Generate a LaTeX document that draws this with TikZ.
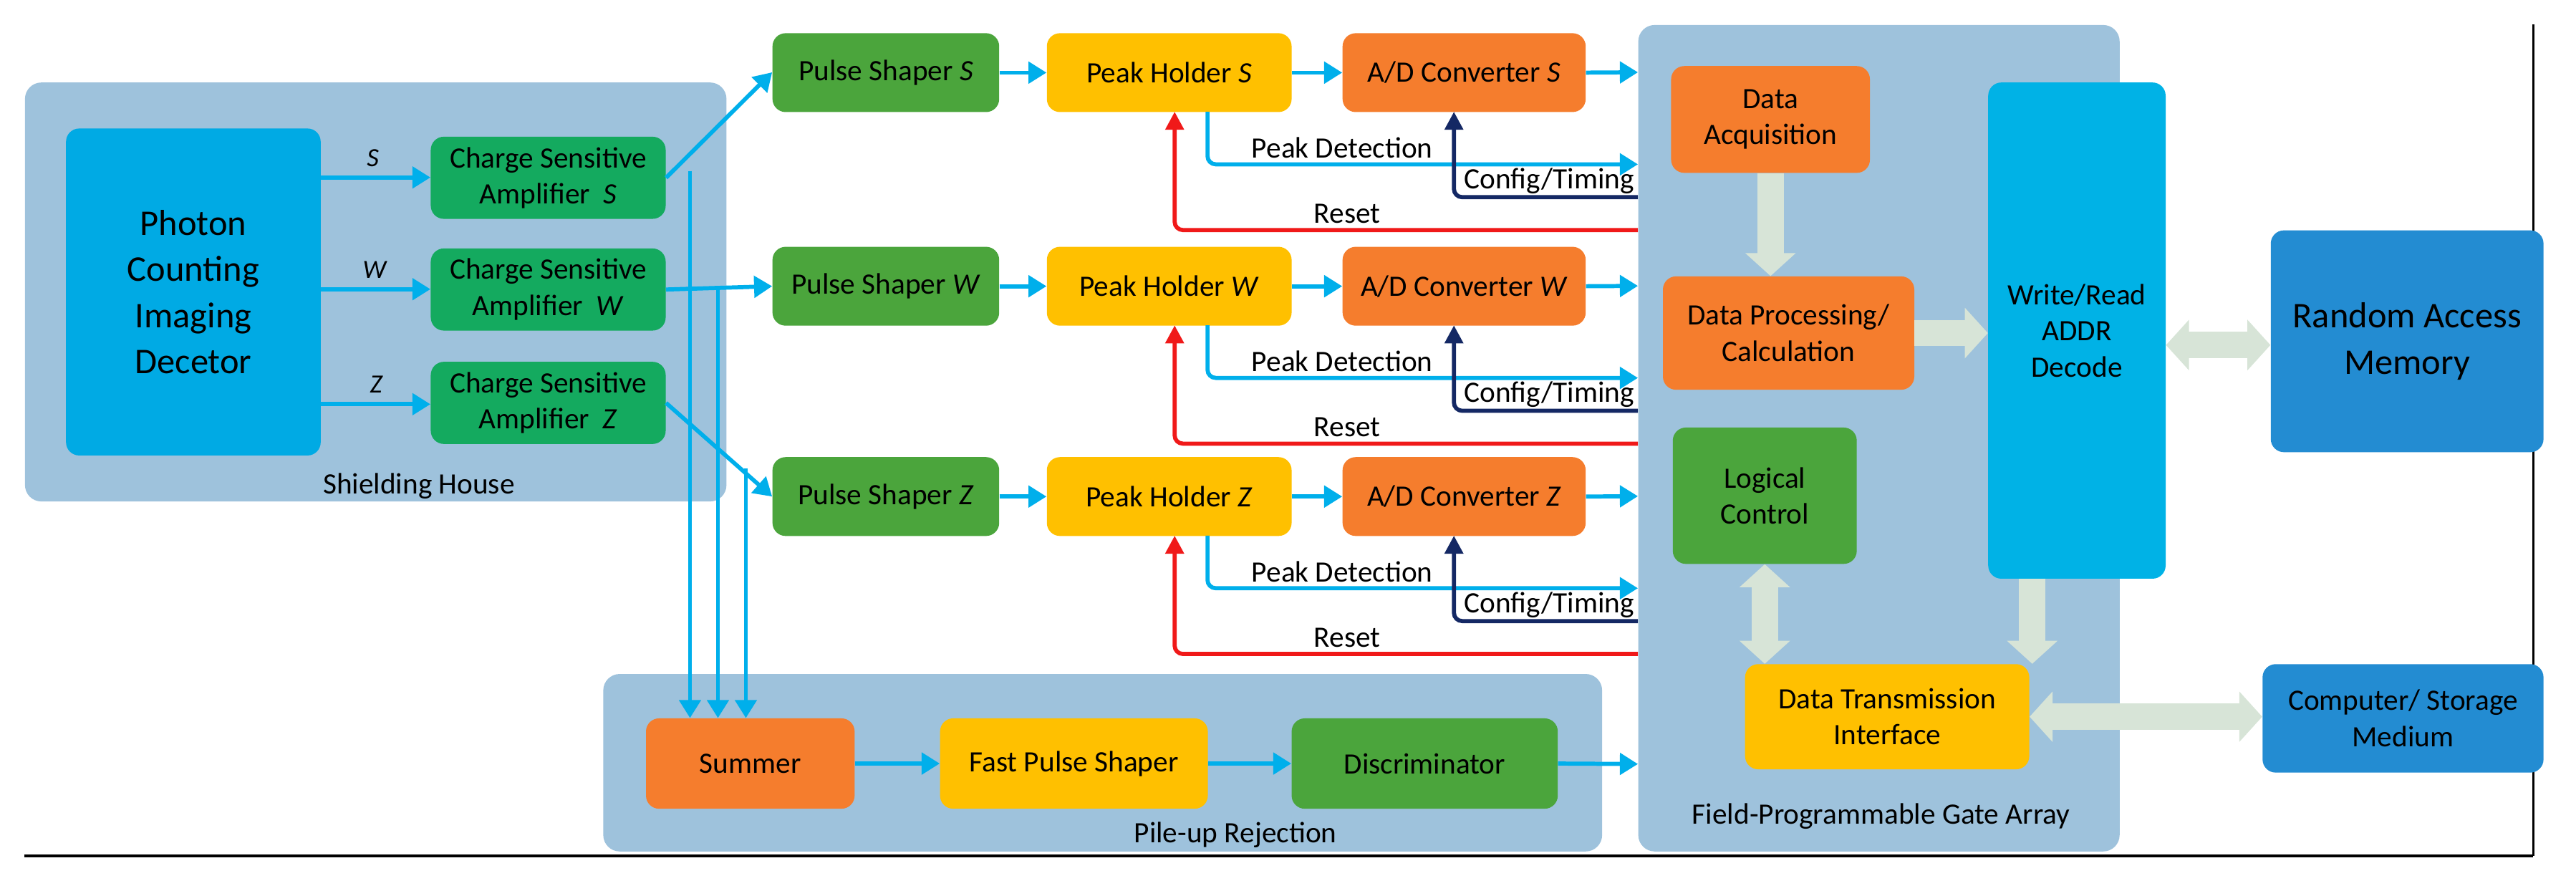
\documentclass[tikz,border=0pt]{standalone}
\usepackage{fontspec}
\setmainfont{Carlito}
\usetikzlibrary{arrows.meta}
\definecolor{cont}{RGB}{158,194,220}
\definecolor{det}{RGB}{0,170,228}
\definecolor{csa}{RGB}{20,170,95}
\definecolor{gr}{RGB}{75,165,60}
\definecolor{yel}{RGB}{255,192,0}
\definecolor{ora}{RGB}{245,125,45}
\definecolor{wr}{RGB}{0,178,230}
\definecolor{ram}{RGB}{35,140,210}
\definecolor{sig}{RGB}{0,175,235}
\definecolor{navy}{RGB}{20,40,100}
\definecolor{rst}{RGB}{240,25,25}
\definecolor{pale}{RGB}{215,228,215}
\tikzset{
 box/.style={rounded corners=8pt, align=center, inner sep=0pt, font=\fontsize{18}{22}\selectfont},
 cont/.style={fill=cont, rounded corners=10pt},
 sa/.style={draw=sig, line width=2.5pt, -{Triangle[length=11pt,width=13pt]}},
 na/.style={draw=navy, line width=2.5pt, -{Triangle[length=11pt,width=11pt]}, rounded corners=5pt},
 ra/.style={draw=rst, line width=2.5pt, -{Triangle[length=11pt,width=11pt]}, rounded corners=5pt},
 ba/.style={draw=pale, line width=16pt, -{Triangle[length=14pt,width=30pt]}},
 bb/.style={draw=pale, line width=16pt, {Triangle[length=14pt,width=30pt]}-{Triangle[length=14pt,width=30pt]}},
 lab/.style={font=\fontsize{18}{20}\selectfont},
 big/.style={font=\fontsize{22}{28}\selectfont},
}
\begin{document}
\begin{tikzpicture}[x=1pt,y=-1pt]
\useasboundingbox (0,0) rectangle (1568,542);
% containers
\node[cont, minimum width=427, minimum height=255, anchor=north west] (sh) at (15,50) {};
\node[lab] at (255,296) {Shielding House};
\node[cont, minimum width=608, minimum height=108, anchor=north west] (pu) at (367,410) {};
\node[lab] at (752,508) {Pile-up Rejection};
\node[cont, minimum width=293, minimum height=503, anchor=north west] (fpga) at (997,15) {};
\node[lab] at (1145,497) {Field-Programmable Gate Array};
% frame lines
\draw[line width=2pt] (15,521) -- (1542,521);
\draw[line width=1.5pt] (1542,15) -- (1542,521);
% detector
\node[box, fill=det, minimum width=155, minimum height=199, anchor=north west] (det) at (40,78) {};
\node[big, align=center] at (det.center) {Photon\\Counting\\Imaging\\Decetor};
% CSAs
\foreach \n/\y in {S/83,W/151,Z/220}{
 \node[box, fill=csa, minimum width=143, minimum height=50, anchor=north west] (csa\n) at (262,\y) {Charge Sensitive\\Amplifier~~\textit{\n}};
}
\foreach \n/\y in {S/20,W/150,Z/278}{
 \node[box, fill=gr, minimum width=138, minimum height=48, anchor=north west] (ps\n) at (470,\y) {Pulse Shaper \textit{\n}};
 \node[box, fill=yel, minimum width=149, minimum height=48, anchor=north west] (ph\n) at (637,\y) {Peak Holder \textit{\n}};
 \node[box, fill=ora, minimum width=148, minimum height=48, anchor=north west] (ad\n) at (817,\y) {A/D Converter \textit{\n}};
 \draw[sa] (ps\n.east) -- (ph\n.west);
 \draw[sa] (ph\n.east) -- (ad\n.west);
 \coordinate (o\n) at (997,\y+24);
 \draw[sa] (ad\n.east) -- (o\n);
 \coordinate (pd\n) at (997,\y+80);
 \draw[sa, rounded corners=5pt] (735,\y+48) |- (pd\n);
 \node[lab] at (817,\y+70) {Peak Detection};
 \coordinate (ct\n) at (997,\y+100);
 \draw[na] (ct\n) -| (885,\y+48);
 \node[lab] at (943,\y+90) {Config/Timing};
 \coordinate (rs\n) at (997,\y+120);
 \draw[ra] (rs\n) -| (715,\y+48);
 \node[lab] at (820,\y+110) {Reset};
}
% detector to CSA
\foreach \n/\y in {S/108,W/176,Z/246}{
 \draw[sa] (det.east |- 0,\y) -- (csa\n.west |- 0,\y);
}
\node[font=\itshape\fontsize{16}{18}\selectfont] at (227,96) {S};
\node[font=\itshape\fontsize{16}{18}\selectfont] at (228,164) {W};
\node[font=\itshape\fontsize{16}{18}\selectfont] at (229,234) {Z};
% CSA to pulse shapers
\draw[sa] (csaS.east) -- (psS.north west |- 0,44);
\draw[sa] (csaW.east) -- (psW.west);
\draw[sa] (csaZ.east) -- (psZ.west);
% pile-up
\node[box, fill=ora, minimum width=127, minimum height=55, anchor=north west] (sum) at (393,437) {Summer};
\node[box, fill=yel, minimum width=163, minimum height=55, anchor=north west] (fps) at (572,437) {Fast Pulse Shaper};
\node[box, fill=gr, minimum width=162, minimum height=55, anchor=north west] (dis) at (786,437) {Discriminator};
\draw[sa] (420,104) -- (420,437);
\draw[sa] (437,176) -- (437,437);
\draw[sa] (454,285) -- (454,437);
\draw[sa] (sum) -- (fps);
\draw[sa] (fps) -- (dis);
\coordinate (od) at (997,465);
\draw[sa] (dis.east) -- (od);
% FPGA internals
\node[box, fill=ora, minimum width=121, minimum height=65, anchor=north west] (da) at (1017,40) {Data\\Acquisition};
\node[box, fill=ora, minimum width=153, minimum height=69, anchor=north west] (dp) at (1012,168) {Data Processing/\\Calculation};
\node[box, fill=gr, minimum width=112, minimum height=83, anchor=north west] (lc) at (1018,260) {Logical\\Control};
\node[box, fill=wr, minimum width=108, minimum height=302, anchor=north west] (wr) at (1210,50) {Write/Read\\ADDR\\Decode};
\node[box, fill=yel, minimum width=173, minimum height=64, anchor=north west] (dt) at (1062,404) {Data Transmission\\Interface};
\node[box, fill=ram, minimum width=166, minimum height=135, anchor=north west, big] (ram) at (1382,140) {Random Access\\Memory};
\node[box, fill=ram, minimum width=171, minimum height=66, anchor=north west] (cs) at (1377,404) {Computer/ Storage\\Medium};
% big pale arrows
\draw[ba] (da.south) -- (da.south |- dp.north);
\draw[ba] (dp.east) -- (wr.west |- dp.east);
\draw[bb] (wr.east |- 0,210) -- (ram.west |- 0,210);
\draw[bb] (lc.south) -- (lc.south |- dt.north);
\draw[ba] (1237,352) -- (1237,404);
\draw[bb] (dt.east) -- (cs.west |- dt.east);
\end{tikzpicture}
\end{document}
